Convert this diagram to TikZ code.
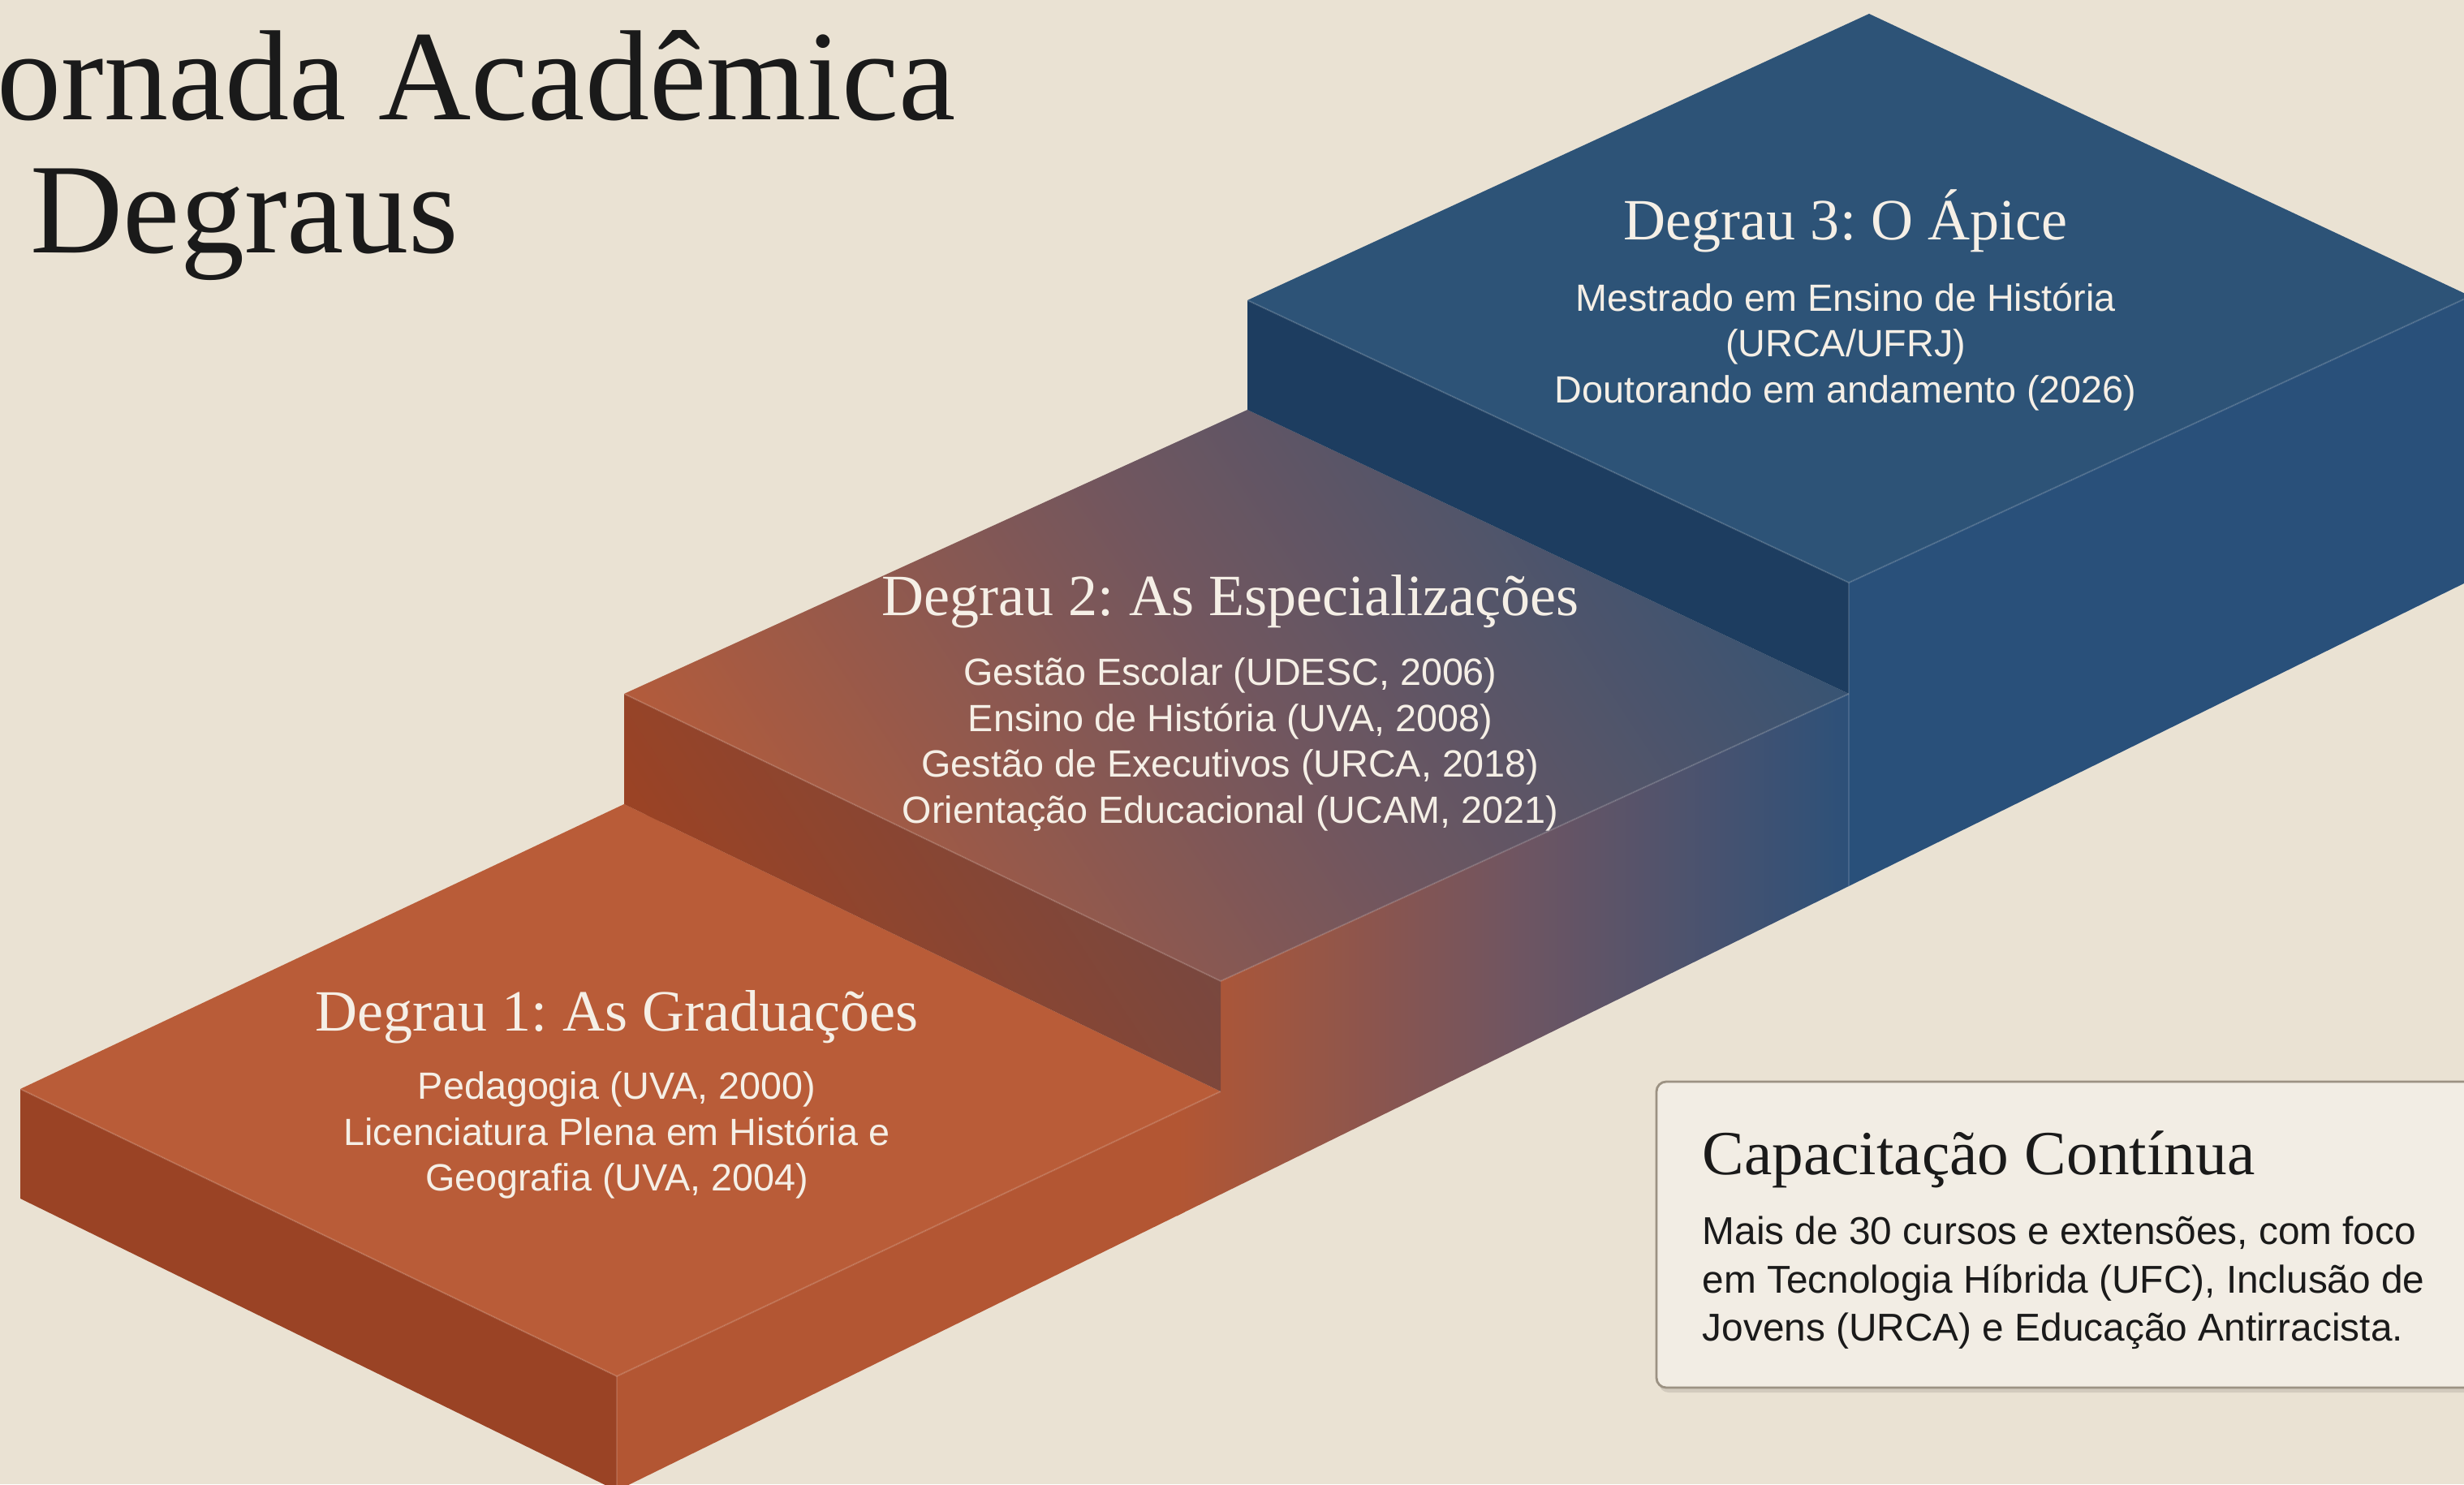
\documentclass[tikz,border=0pt]{standalone}
\usepackage{fontspec}
\setmainfont{Liberation Serif}
\newfontfamily\bodyfont{Liberation Sans}
\frenchspacing

\definecolor{bgc}{HTML}{EAE2D3}
\definecolor{orTop}{HTML}{B95C38}
\definecolor{orFront}{HTML}{9A4325}
\definecolor{orSide}{HTML}{B35633}
\definecolor{miTop}{HTML}{70565F}
\definecolor{miFront}{HTML}{684A4C}
\definecolor{miSide}{HTML}{6E5562}
\definecolor{blTop}{HTML}{2D5377}
\definecolor{blFront}{HTML}{1D3D60}
\definecolor{blSide}{HTML}{29507A}
\definecolor{txtLight}{HTML}{F5EFE6}
\definecolor{txtDark}{HTML}{1A1A1A}
\definecolor{boxFill}{HTML}{F2EDE4}
\definecolor{boxLine}{HTML}{9C9283}

\tikzset{
  bigtitle/.style={text=txtDark, font=\fontsize{45}{50}\selectfont, inner sep=0pt, anchor=base west},
  steptitle/.style={text=txtLight, font=\fontsize{20.5}{24}\selectfont, inner sep=0pt, anchor=base},
  stepbody/.style={text=txtLight, font=\bodyfont\fontsize{13.3}{16.1}\selectfont, align=center, inner sep=0pt, anchor=north},
  rim/.style={draw=white, draw opacity=0.13, line width=0.6pt},
}

% face filled with the orange -> blue colour run
\newcommand{\gradface}[7]{%
  \begin{scope}
    \clip #1;
    \fill[#2, transform canvas={rotate=#5}] (-30,-40) rectangle (#6+0.1,40);
    \shade[left color=#2, right color=#4, middle color=#3, transform canvas={rotate=#5}] (#6,-40) rectangle (#7,40);
    \fill[#4, transform canvas={rotate=#5}] (#7-0.1,-40) rectangle (70,40);
  \end{scope}}

\begin{document}
\begin{tikzpicture}
\useasboundingbox (0,0) rectangle (30.36,18.29);
\clip (0,0) rectangle (30.36,18.29);
\fill[bgc] (0,0) rectangle (30.36,18.29);

% corners of the three steps
\coordinate (L1) at (0.25,4.87);   \coordinate (L1b) at (0.25,3.52);
\coordinate (F1) at (7.60,1.33);   \coordinate (F1b) at (7.60,-0.08);
\coordinate (B1) at (7.69,8.38);   \coordinate (R1) at (15.04,4.84);
\coordinate (L2) at (7.69,9.74);   \coordinate (F2) at (15.04,6.20);
\coordinate (B2) at (15.37,13.24); \coordinate (R2) at (22.78,9.74);
\coordinate (L3) at (15.37,14.59); \coordinate (F3) at (22.78,11.11);
\coordinate (B3) at (23.03,18.12); \coordinate (R3) at (30.44,14.64);
\coordinate (S2) at (22.78,7.37);  \coordinate (S3) at (30.44,11.14);

% step 1
\fill[orFront] (L1) -- (F1) -- (F1b) -- (L1b) -- cycle;
\fill[orTop] (L1) -- (B1) -- (R1) -- (F1) -- cycle;

% side of steps 1 and 2
\gradface{(F1) -- (R1) -- (F2) -- (R2) -- (S2) -- (F1b) -- cycle}{orSide}{miSide}{blSide}{0}{14.5}{23}

% step 2
\gradface{(B1) -- (R1) -- (F2) -- (L2) -- cycle}{orFront}{miFront}{blFront}{33.6}{11.2}{25.5}
\gradface{(L2) -- (B2) -- (R2) -- (F2) -- cycle}{orTop}{miTop}{blTop}{33.6}{11.2}{25.5}

% step 3
\fill[blFront] (B2) -- (R2) -- (F3) -- (L3) -- cycle;
\fill[blTop] (L3) -- (B3) -- (R3) -- (F3) -- cycle;
\fill[blSide] (F3) -- (R3) -- (S3) -- (S2) -- cycle;

\draw[rim] (L1) -- (F1) -- (R1);
\draw[rim] (L2) -- (F2) -- (R2);
\draw[rim] (L3) -- (F3) -- (R3);
\draw[rim] (F1) -- (F1b);
\draw[rim] (F3) -- (S2);

% title
\node[bigtitle] (ttl1) at (-0.04,16.81) {ornada Acadêmica};
\node[bigtitle] (ttl2) at (0.37,15.17) {Degraus};

% texts on the steps
\node[steptitle] (d1title) at (7.60,5.59) {Degrau 1: As Graduações};
\node[stepbody] (d1body) at (7.60,5.09) {Pedagogia (UVA, 2000)\\Licenciatura Plena em História e\\Geografia (UVA, 2004)};

\node[steptitle] (d2title) at (15.16,10.70) {Degrau 2: As Especializações};
\node[stepbody] (d2body) at (15.16,10.19) {Gestão Escolar (UDESC, 2006)\\Ensino de História (UVA, 2008)\\Gestão de Executivos (URCA, 2018)\\Orientação Educacional (UCAM, 2021)};

\node[steptitle] (d3title) at (22.74,15.33) {Degrau 3: O Ápice};
\node[stepbody] (d3body) at (22.74,14.81) {Mestrado em Ensino de História\\(URCA/UFRJ)\\Doutorando em andamento (2026)};

% box
\fill[black, opacity=0.10, rounded corners=0.12cm] (20.44,1.13) rectangle (30.7,4.92);
\draw[boxLine, fill=boxFill, line width=0.8pt, rounded corners=0.12cm] (20.41,1.19) rectangle (30.7,4.96);
\node[anchor=base west, text=txtDark, font=\fontsize{22}{26}\selectfont, inner sep=0pt] (captitle) at (20.97,3.82) {Capacitação Contínua};
\node[anchor=north west, text=txtDark, font=\bodyfont\fontsize{13.6}{17}\selectfont, align=left, inner sep=0pt] (capbody) at (20.97,3.31) {Mais de 30 cursos e extensões, com foco\\em Tecnologia Híbrida (UFC), Inclusão de\\Jovens (URCA) e Educação Antirracista.};
\end{tikzpicture}
\end{document}
